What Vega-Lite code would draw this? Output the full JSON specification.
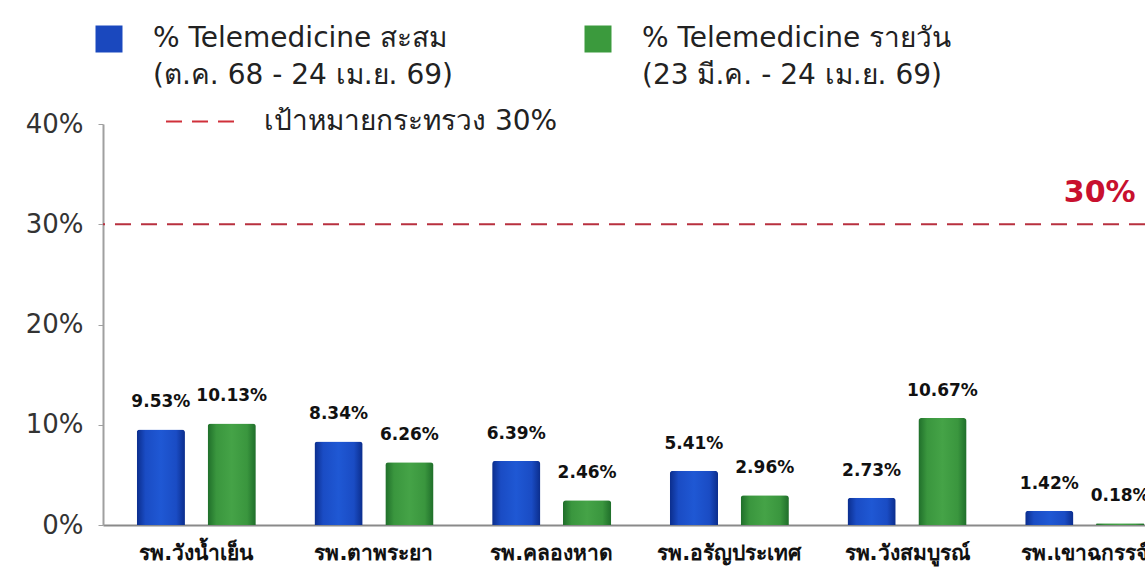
{
  "$schema": "https://vega.github.io/schema/vega-lite/v6.json",
  "autosize": {"type": "none"},
  "padding": {"left": 103, "top": 124, "right": 0, "bottom": 47},
  "width": 1042,
  "height": 401,
  "background": "white",
  "config": {"view": {"stroke": null}, "font": "DejaVu Sans"},
  "datasets": {
    "bars": [
      {"hospital": "รพ.วังน้ำเย็น", "series": "สะสม", "value": 9.53, "label": "9.53%"},
      {"hospital": "รพ.วังน้ำเย็น", "series": "รายวัน", "value": 10.13, "label": "10.13%"},
      {"hospital": "รพ.ตาพระยา", "series": "สะสม", "value": 8.34, "label": "8.34%"},
      {"hospital": "รพ.ตาพระยา", "series": "รายวัน", "value": 6.26, "label": "6.26%"},
      {"hospital": "รพ.คลองหาด", "series": "สะสม", "value": 6.39, "label": "6.39%"},
      {"hospital": "รพ.คลองหาด", "series": "รายวัน", "value": 2.46, "label": "2.46%"},
      {"hospital": "รพ.อรัญประเทศ", "series": "สะสม", "value": 5.41, "label": "5.41%"},
      {"hospital": "รพ.อรัญประเทศ", "series": "รายวัน", "value": 2.96, "label": "2.96%"},
      {"hospital": "รพ.วังสมบูรณ์", "series": "สะสม", "value": 2.73, "label": "2.73%"},
      {"hospital": "รพ.วังสมบูรณ์", "series": "รายวัน", "value": 10.67, "label": "10.67%"},
      {"hospital": "รพ.เขาฉกรรจ์", "series": "สะสม", "value": 1.42, "label": "1.42%"},
      {"hospital": "รพ.เขาฉกรรจ์", "series": "รายวัน", "value": 0.18, "label": "0.18%"}
    ],
    "target": [
      {"name": "เป้าหมายกระทรวง 30%", "value": 30, "tag": "30%", "hospital": "รพ.เขาฉกรรจ์"}
    ]
  },
  "layer": [
    {
      "data": {"name": "bars"},
      "mark": {"type": "bar", "opacity": 0},
      "encoding": {
        "x": {
          "field": "hospital", "type": "nominal", "sort": null,
          "scale": {"range": [0, 1075], "paddingInner": 0.33, "paddingOuter": 0.19},
          "axis": {"title": null, "labelAngle": 0, "ticks": false, "domainColor": "#8a8a8a", "domainWidth": 2, "labelFontSize": 21, "labelFontWeight": "bold", "labelColor": "#111", "labelPadding": 17, "labelLimit": 300}
        },
        "xOffset": {"field": "series", "type": "nominal", "sort": ["สะสม", "รายวัน"], "scale": {"paddingInner": 0.32, "paddingOuter": 0}},
        "y": {
          "field": "value", "type": "quantitative",
          "scale": {"domain": [0, 40]},
          "axis": {"title": null, "values": [0, 10, 20, 30, 40], "labelExpr": "datum.value + '%'", "grid": false, "domainColor": "#a0a0a0", "domainWidth": 2, "tickColor": "#a0a0a0", "tickSize": 5, "labelFontSize": 26, "labelColor": "#333", "labelPadding": 15}
        },
        "color": {
          "field": "series", "type": "nominal",
          "scale": {"domain": ["สะสม", "รายวัน"], "range": ["#1a48be", "#3b9a3d"]},
          "legend": {
            "orient": "none", "legendX": -8, "legendY": -99, "direction": "horizontal", "title": null,
            "symbolType": "square", "symbolSize": 729, "symbolStrokeWidth": 0, "symbolOpacity": 1,
            "labelFontSize": 28, "labelColor": "#222", "labelOffset": 30, "columnPadding": 131, "labelLimit": 1000,
            "labelExpr": "datum.value == 'สะสม' ? ['% Telemedicine สะสม', '(ต.ค. 68 - 24 เม.ย. 69)'] : ['% Telemedicine รายวัน', '(23 มี.ค. - 24 เม.ย. 69)']",
            "encode": {"labels": {"update": {"lineHeight": {"value": 37}}}}
          }
        }
      }
    },
    {
      "data": {"name": "bars"},
      "mark": {"type": "bar", "cornerRadiusTopLeft": 3, "cornerRadiusTopRight": 3},
      "encoding": {
        "x": {"field": "hospital", "type": "nominal", "sort": null},
        "xOffset": {"field": "series", "type": "nominal", "sort": ["สะสม", "รายวัน"]},
        "y": {"field": "value", "type": "quantitative"},
        "fill": {
          "condition": {
            "test": "datum.series === 'สะสม'",
            "value": {"gradient": "linear", "x1": 0, "y1": 0, "x2": 1, "y2": 0, "stops": [
              {"offset": 0, "color": "#0b2d8c"},
              {"offset": 0.18, "color": "#1a4cc4"},
              {"offset": 0.5, "color": "#1f58d4"},
              {"offset": 0.82, "color": "#1a4cc4"},
              {"offset": 1, "color": "#0b2d8c"}
            ]}
          },
          "value": {"gradient": "linear", "x1": 0, "y1": 0, "x2": 1, "y2": 0, "stops": [
            {"offset": 0, "color": "#1f6e2a"},
            {"offset": 0.18, "color": "#3a963e"},
            {"offset": 0.5, "color": "#45a347"},
            {"offset": 0.82, "color": "#3a963e"},
            {"offset": 1, "color": "#1f6e2a"}
          ]}
        }
      }
    },
    {
      "data": {"name": "bars"},
      "mark": {"type": "text", "fontSize": 17, "fontWeight": "bold", "color": "#111", "baseline": "middle", "dy": -27},
      "encoding": {
        "x": {"field": "hospital", "type": "nominal", "sort": null},
        "xOffset": {"field": "series", "type": "nominal", "sort": ["สะสม", "รายวัน"]},
        "y": {"field": "value", "type": "quantitative"},
        "text": {"field": "label"}
      }
    },
    {
      "data": {"name": "target"},
      "mark": {"type": "rule", "color": "#b8303f", "strokeWidth": 2},
      "encoding": {
        "y": {"field": "value", "type": "quantitative"},
        "strokeDash": {
          "field": "name", "type": "nominal",
          "scale": {"range": [[16, 10]]},
          "legend": {"orient": "none", "legendX": 62, "legendY": -41, "title": null, "symbolType": "stroke", "symbolSize": 5625, "symbolStrokeColor": "#d0303a", "symbolStrokeWidth": 2, "labelFontSize": 28, "labelColor": "#222", "labelOffset": 22, "labelLimit": 1000}
        }
      }
    },
    {
      "data": {"name": "target"},
      "mark": {"type": "text", "fontSize": 30, "fontWeight": "bold", "color": "#c8102e", "baseline": "alphabetic", "dy": -22, "dx": 15},
      "encoding": {
        "x": {"field": "hospital", "type": "nominal", "sort": null},
        "y": {"field": "value", "type": "quantitative"},
        "text": {"field": "tag"}
      }
    }
  ]
}
